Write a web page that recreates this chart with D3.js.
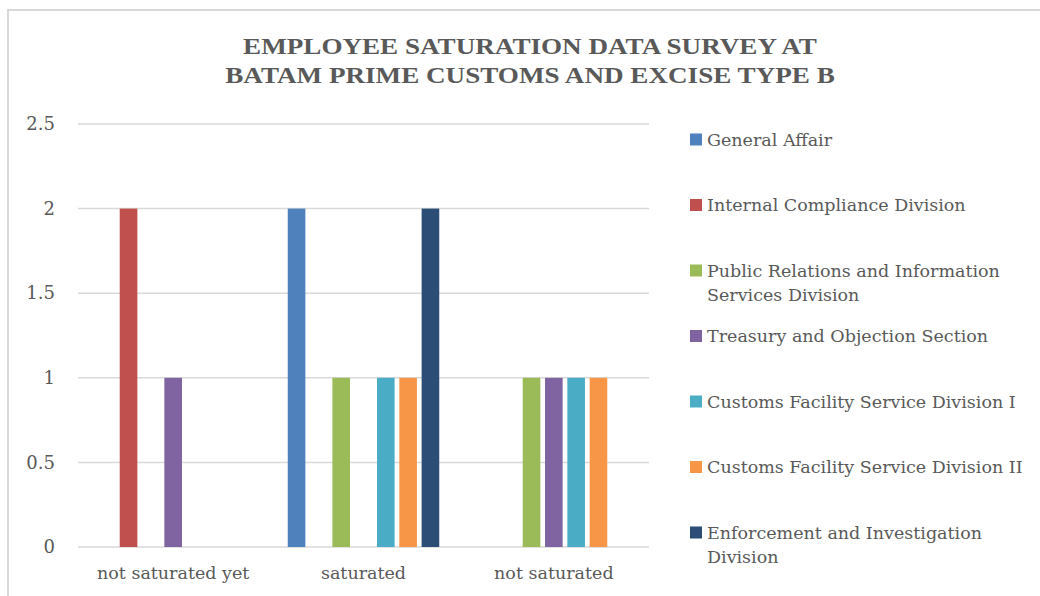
<!DOCTYPE html>
<html>
<head>
<meta charset="utf-8">
<script src="https://cdn.jsdelivr.net/npm/d3@7"></script>
<style>
  body { margin: 0; background: #fff; }
  svg text { font-family: "DejaVu Serif", serif; fill: #595959; }
  svg text.title { font-family: "Liberation Serif", "Times New Roman", serif; }
</style>
</head>
<body>
<script>
var categories = ["not saturated yet", "saturated", "not saturated"];
var seriesNames = [
    "General Affair",
    "Internal Compliance Division",
    "Public Relations and Information Services Division",
    "Treasury and Objection Section",
    "Customs Facility Service Division I",
    "Customs Facility Service Division II",
    "Enforcement and Investigation Division"
];
var generalAffair = [0, 2, 0];
var internalCompliance = [2, 0, 0];
var publicRelations = [0, 1, 1];
var treasury = [1, 0, 1];
var customsFacility1 = [0, 1, 1];
var customsFacility2 = [0, 1, 1];
var enforcement = [0, 2, 0];
var seriesValues = [generalAffair, internalCompliance, publicRelations, treasury,
    customsFacility1, customsFacility2, enforcement];
var colors = ["#4f81bd", "#c0504d", "#9bbb59", "#8064a2", "#4bacc6", "#f79646", "#2c4d75"];
var yTicks = [0, 0.5, 1, 1.5, 2, 2.5];

var W = 1040, H = 596;
var margin = {top: 124, right: 391, bottom: 49, left: 78};
var w = W - margin.left - margin.right;
var h = H - margin.top - margin.bottom;

var svg = d3.select('body').append('svg')
    .attr('width', W)
    .attr('height', H);

// chart frame
svg.append('path')
    .attr('d', 'M8,' + H + 'V10H' + W)
    .attr('fill', 'none')
    .attr('stroke', '#d9d9d9')
    .attr('stroke-width', 2);

var title = svg.append('text')
    .attr('class', 'title')
    .attr('text-anchor', 'middle')
    .attr('transform', 'translate(530,0) scale(1.13,1)')
    .style('font-size', '24px')
    .style('font-weight', 'bold');
title.append('tspan').attr('x', 0).attr('y', 54.5).text('EMPLOYEE SATURATION DATA SURVEY AT');
title.append('tspan').attr('x', 0).attr('y', 83).text('BATAM PRIME CUSTOMS AND EXCISE TYPE B');

var g = svg.append('g')
    .attr('transform', 'translate(' + margin.left + ',' + margin.top + ')');

var x0 = d3.scaleBand().domain(categories).range([0, w]);
var bw = x0.bandwidth();
var x1 = d3.scaleBand().domain(d3.range(seriesNames.length))
    .range([bw * 0.102, bw * 0.898])
    .paddingInner(0.21);
var y = d3.scaleLinear().domain([0, 2.5]).range([h, 0]);

// gridlines
g.selectAll('.grid')
    .data(yTicks)
    .enter()
    .append('line')
    .attr('class', 'grid')
    .attr('x1', 0).attr('x2', w)
    .attr('y1', (d) => y(d)).attr('y2', (d) => y(d))
    .attr('stroke', '#d9d9d9')
    .attr('stroke-width', 1.5);

var yAxis = g.append('g')
    .call(d3.axisLeft(y).tickValues(yTicks).tickSize(0).tickPadding(23).tickFormat(d3.format('')));
yAxis.select('.domain').remove();
yAxis.selectAll('text').style('font-size', '18px').attr('fill', '#595959');

var xAxis = g.append('g')
    .attr('transform', 'translate(0,' + h + ')')
    .call(d3.axisBottom(x0).tickSize(0).tickPadding(20));
xAxis.select('.domain').remove();
xAxis.selectAll('text').style('font-size', '17.5px').attr('fill', '#595959');

var groups = g.selectAll('.cat')
    .data(categories)
    .enter()
    .append('g')
    .attr('class', 'cat')
    .attr('transform', (d) => 'translate(' + x0(d) + ',0)');

groups.selectAll('rect')
    .data((d, ci) => seriesValues.map((vals, si) => ({s: si, v: vals[ci]})))
    .enter()
    .append('rect')
    .attr('x', (d) => x1(d.s))
    .attr('width', x1.bandwidth())
    .attr('y', (d) => y(d.v))
    .attr('height', (d) => h - y(d.v))
    .attr('fill', (d) => colors[d.s]);

// legend
var legend = svg.append('g').attr('transform', 'translate(690,0)');
var item = legend.selectAll('.item')
    .data(seriesNames)
    .enter()
    .append('g')
    .attr('class', 'item')
    .attr('transform', (d, i) => 'translate(0,' + (139.5 + i * 65.5) + ')');

item.append('rect')
    .attr('x', 0).attr('y', -6)
    .attr('width', 12).attr('height', 12)
    .attr('fill', (d, i) => colors[i]);

item.append('text')
    .attr('x', 17)
    .attr('y', 0)
    .style('font-size', '17.5px')
    .each(function(d) {
        var t = d3.select(this);
        var words = d.split(' ');
        var line = [];
        var tspan = t.append('tspan').attr('x', 17).attr('dy', '0.35em');
        words.forEach(function(word) {
            line.push(word);
            tspan.text(line.join(' '));
            if (tspan.node().getComputedTextLength() > 328 && line.length > 1) {
                line.pop();
                tspan.text(line.join(' '));
                line = [word];
                tspan = t.append('tspan').attr('x', 17).attr('dy', '1.42em').text(word);
            }
        });
    });
</script>
</body>
</html>
